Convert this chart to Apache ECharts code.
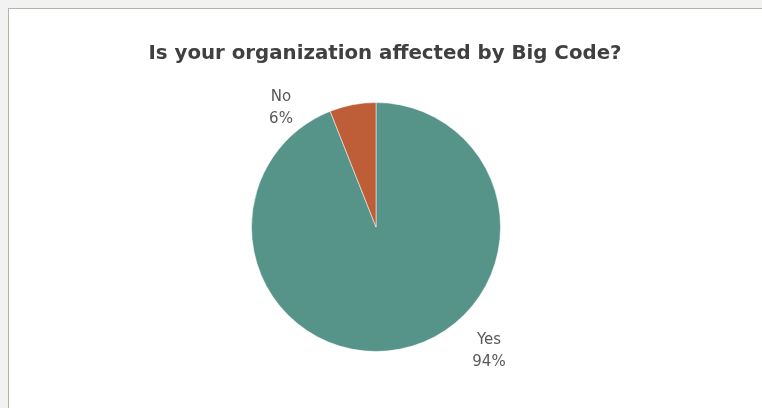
<!DOCTYPE html>
<html>
<head>
<meta charset="utf-8">
<script src="https://cdn.jsdelivr.net/npm/echarts@6/dist/echarts.min.js"></script>
<style>
html,body{margin:0;padding:0;width:762px;height:408px;overflow:hidden;background:#f2f2f2;}
#frame{position:absolute;left:8px;top:8px;width:770px;height:420px;background:#fff;border-left:1px solid #b9b3a7;border-top:1px solid #b9b3a7;}
#chart{position:absolute;left:0;top:0;width:753px;height:400px;}
</style>
</head>
<body>
<div id="frame"><div id="chart"></div></div>
<script>
const titleText = 'Is your organization affected by Big Code?';
const categories = ['Yes', 'No'];
const values = [94, 6];
const colors = ['#56948a', '#be5e38'];

const chart = echarts.init(document.getElementById('chart'));
chart.setOption({
  animation: false,
  title: {
    text: titleText,
    left: 371, top: 30, textAlign: 'center',
    textStyle: {fontFamily: 'DejaVu Sans', fontWeight: 'bold', fontSize: 19.8, color: '#404040'}
  },
  series: [{
    type: 'pie',
    center: [367, 218],
    radius: 124.5,
    startAngle: 90,
    clockwise: true,
    data: categories.map((c, i) => ({name: c, value: values[i], itemStyle: {color: colors[i]}})),
    itemStyle: {borderColor: '#fff', borderWidth: 0.5},
    label: {
      show: true, position: 'outside',
      formatter: p => p.name + '\n' + Math.round(p.percent) + '%',
      fontFamily: 'DejaVu Sans', fontSize: 15, color: '#595959', lineHeight: 22,
      align: 'center'
    },
    labelLine: {show: false},
    labelLayout: function (p) {
      return p.dataIndex === 0
        ? {x: 480, y: 342, align: 'center', verticalAlign: 'middle'}
        : {x: 272, y: 99, align: 'center', verticalAlign: 'middle'};
    }
  }]
});
</script>
</body>
</html>
